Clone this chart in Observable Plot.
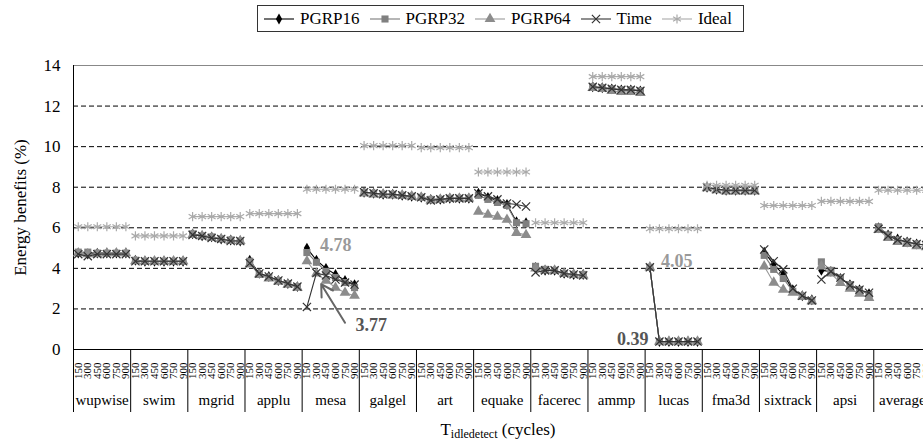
<!DOCTYPE html>
<html><head><meta charset="utf-8">
<script src="https://cdn.jsdelivr.net/npm/d3@7"></script>
<script src="https://cdn.jsdelivr.net/npm/@observablehq/plot@0.6"></script>
<style>
body{margin:0;background:#fff;font-family:"Liberation Serif","Times New Roman",serif;}
#legend{height:36px;position:relative}
#legend .box{position:absolute;left:257px;top:5px;height:27px;width:487px;border:1px solid #333;box-sizing:border-box;display:flex;align-items:center;padding-left:5px;gap:9px}
.item{display:flex;align-items:center;font-size:17px;gap:5px;color:#000}
.item svg{display:block}
#caption{height:31px;font-size:17px;line-height:28px;text-align:center;padding-left:73px}
#caption sub{font-size:12px;vertical-align:-3px;line-height:0}
</style></head>
<body>
<div id="legend"><div class="box"></div></div>
<div id="chart"></div>
<div id="caption">T<sub>idledetect</sub> (cycles)</div>
<script>
const benchmarks = ["wupwise","swim","mgrid","applu","mesa","galgel","art","equake","facerec","ammp","lucas","fma3d","sixtrack","apsi","average"];
const tickLabels = ["150","300","450","600","750","900"];
const seriesNames = ["PGRP16","PGRP32","PGRP64","Time","Ideal"];

const pgrp16 = [
 [4.75,4.7,4.75,4.75,4.75,4.75],
 [4.4,4.35,4.35,4.35,4.35,4.35],
 [5.7,5.6,5.55,5.45,5.4,5.35],
 [4.4,3.75,3.6,3.4,3.25,3.1],
 [5.0,4.4,4.0,3.7,3.4,3.2],
 [7.75,7.7,7.65,7.65,7.6,7.55],
 [7.5,7.4,7.4,7.45,7.45,7.45],
 [7.7,7.5,7.35,7.15,6.3,6.25],
 [4.05,3.9,3.9,3.75,3.7,3.7],
 [12.95,12.9,12.85,12.8,12.8,12.75],
 [4.05,0.39,0.39,0.39,0.39,0.39],
 [8.0,7.9,7.85,7.85,7.85,7.85],
 [4.8,4.2,3.7,2.95,2.65,2.45],
 [3.9,3.85,3.5,3.2,2.95,2.75],
 [6.0,5.65,5.45,5.3,5.2,5.15]
];
const pgrp32 = [
 [4.8,4.8,4.75,4.75,4.75,4.75],
 [4.4,4.35,4.35,4.35,4.35,4.35],
 [5.7,5.6,5.55,5.45,5.4,5.35],
 [4.35,3.7,3.55,3.4,3.25,3.1],
 [4.78,4.3,3.85,3.55,3.3,3.05],
 [7.75,7.7,7.65,7.65,7.6,7.55],
 [7.5,7.4,7.4,7.45,7.45,7.45],
 [7.6,7.4,7.25,7.1,6.25,6.2],
 [4.1,3.95,3.9,3.75,3.7,3.7],
 [12.95,12.9,12.85,12.8,12.8,12.75],
 [4.05,0.39,0.39,0.39,0.39,0.39],
 [8.0,7.9,7.85,7.85,7.85,7.85],
 [4.64,3.95,3.5,2.87,2.63,2.4],
 [4.32,3.9,3.53,3.2,2.95,2.71],
 [6.05,5.65,5.4,5.3,5.2,5.15]
];
const pgrp64 = [
 [4.75,4.7,4.7,4.75,4.75,4.75],
 [4.35,4.35,4.35,4.35,4.35,4.35],
 [5.65,5.6,5.5,5.45,5.35,5.35],
 [4.2,3.7,3.5,3.35,3.2,3.05],
 [4.35,3.75,3.4,3.05,2.8,2.65],
 [7.7,7.65,7.65,7.6,7.6,7.55],
 [7.5,7.35,7.4,7.45,7.45,7.45],
 [6.8,6.65,6.55,6.4,5.75,5.65],
 [4.0,3.9,3.9,3.75,3.7,3.65],
 [12.9,12.85,12.75,12.7,12.7,12.65],
 [4.05,0.39,0.39,0.39,0.39,0.39],
 [7.95,7.85,7.8,7.8,7.8,7.8],
 [4.1,3.3,2.95,2.8,2.6,2.38],
 [4.1,3.75,3.28,3.0,2.75,2.55],
 [5.9,5.5,5.3,5.2,5.1,5.05]
];
const timeSeries = [
 [4.7,4.6,4.7,4.7,4.7,4.7],
 [4.35,4.35,4.35,4.35,4.35,4.35],
 [5.65,5.6,5.5,5.45,5.35,5.35],
 [4.25,3.75,3.6,3.4,3.25,3.1],
 [2.1,3.77,3.65,3.45,3.3,3.2],
 [7.75,7.7,7.65,7.65,7.6,7.55],
 [7.5,7.35,7.4,7.45,7.45,7.45],
 [7.7,7.55,7.4,7.2,7.15,7.05],
 [3.8,3.9,3.9,3.75,3.7,3.65],
 [12.95,12.9,12.85,12.8,12.8,12.75],
 [4.05,0.39,0.39,0.39,0.39,0.39],
 [8.0,7.9,7.85,7.85,7.85,7.85],
 [4.93,4.35,3.95,3.0,2.65,2.42],
 [3.45,3.85,3.55,3.15,2.95,2.8],
 [5.95,5.6,5.4,5.3,5.2,5.15]
];
const ideal = [
 [6.05,6.05,6.05,6.05,6.05,6.05],
 [5.6,5.6,5.6,5.6,5.6,5.6],
 [6.55,6.55,6.55,6.55,6.55,6.55],
 [6.7,6.7,6.7,6.7,6.7,6.7],
 [7.9,7.9,7.9,7.9,7.9,7.9],
 [10.05,10.05,10.05,10.05,10.05,10.05],
 [9.95,9.95,9.95,9.95,9.95,9.95],
 [8.75,8.75,8.75,8.75,8.75,8.75],
 [6.25,6.25,6.25,6.25,6.25,6.25],
 [13.45,13.45,13.45,13.45,13.45,13.45],
 [5.95,5.95,5.95,5.95,5.95,5.95],
 [8.1,8.1,8.1,8.1,8.1,8.1],
 [7.1,7.1,7.1,7.1,7.1,7.1],
 [7.3,7.3,7.3,7.3,7.3,7.3],
 [7.85,7.85,7.85,7.85,7.85,7.85]
];
const yTicks = [0,2,4,6,8,10,12,14];
const gridValues = [2,4,6,8,10,12];
// annotations: series, benchmark, point index within group, label
const annotations = [
 {series:"PGRP32", bench:"mesa", i:0, label:"4.78"},
 {series:"Time", bench:"mesa", i:1, label:"3.77"},
 {series:"PGRP32", bench:"lucas", i:0, label:"4.05"},
 {series:"PGRP32", bench:"lucas", i:1, label:"0.39"}
];

const seriesData = {PGRP16: pgrp16, PGRP32: pgrp32, PGRP64: pgrp64, Time: timeSeries, Ideal: ideal};
const style = {
 PGRP16: {line:"#000", symbol:"diamond", fill:"#000", stroke:"none", r:3.3},
 PGRP32: {line:"#7a7a7a", symbol:"square", fill:"#808080", stroke:"none", r:4},
 PGRP64: {line:"#999", symbol:"triangle", fill:"#8c8c8c", stroke:"none", r:4},
 Time: {line:"#333", symbol:"times", fill:"none", stroke:"#333", r:3.8},
 Ideal: {line:"#aaa", symbol:"asterisk", fill:"none", stroke:"#aaa", r:4.3}
};

const rows = [];
for (const s of seriesNames) {
  seriesData[s].forEach((vals, g) => vals.forEach((v, i) => rows.push({series:s, g, idx:g*6+i, v})));
}
const nPts = benchmarks.length * 6;
const pointIdx = d3.range(nPts);
const centers = benchmarks.map((b, g) => g*6 + 2.5);
const boundaries = d3.range(benchmarks.length + 1).map(g => g*6 - 0.5);
const find = a => rows.find(r => r.series === a.series && r.g === benchmarks.indexOf(a.bench) && r.idx % 6 === a.i);
const ann = annotations.map(a => ({...a, ...find(a)}));

const marks = [
  Plot.ruleY(gridValues, {stroke:"#000", strokeDasharray:"5,3", strokeWidth:1}),
  Plot.ruleY([14], {stroke:"#888"}),
  Plot.ruleY([0], {stroke:"#000"}),
  Plot.ruleX([-0.5], {stroke:"#000"}),
  Plot.axisY(yTicks, {tickSize:0, tickPadding:13, fontSize:17, label:"Energy benefits (%)", labelAnchor:"center", labelArrow:"none", labelOffset:60}),
  Plot.axisX(pointIdx, {tickSize:0, tickPadding:13, tickRotate:-90, tickFormat:i => tickLabels[i % 6], fontSize:11, label:null}),
  Plot.axisX(centers, {tickSize:0, tickPadding:45, tickFormat:(c, k) => benchmarks[Math.round((c-2.5)/6)], fontSize:15, label:null}),
  Plot.axisX(boundaries, {tickSize:63, tickFormat:() => "", stroke:"#000", label:null})
];
for (const s of seriesNames) {
  const st = style[s];
  const d = rows.filter(r => r.series === s);
  marks.push(Plot.line(d, {x:"idx", y:"v", z:"g", stroke:st.line, strokeWidth:1.1}));
  marks.push(Plot.dot(d, {x:"idx", y:"v", symbol:() => st.symbol, r:st.r, fill:st.fill, stroke:st.stroke, strokeWidth:1.2}));
}
const a0 = ann[0], a1 = ann[1], a2 = ann[2], a3 = ann[3];
marks.push(
  Plot.text([a0], {x:"idx", y:"v", text:"label", dx:13, dy:-7, textAnchor:"start", fill:"#999", fontWeight:"bold", fontSize:18}),
  Plot.text([a1], {x:"idx", y:"v", text:"label", dx:39, dy:52, textAnchor:"start", fill:"#555", fontWeight:"bold", fontSize:18}),
  Plot.arrow([a1], {x1:d => d.idx + 3.0, y1:d => d.v - 2.45, x2:d => d.idx + 0.5, y2:d => d.v - 0.55, stroke:"#666", strokeWidth:2, headLength:10}),
  Plot.text([a2], {x:"idx", y:"v", text:"label", dx:11, dy:-6, textAnchor:"start", fill:"#999", fontWeight:"bold", fontSize:18}),
  Plot.text([a3], {x:"idx", y:"v", text:"label", dx:-11, dy:-2, textAnchor:"end", fill:"#555", fontWeight:"bold", fontSize:18})
);

const chart = Plot.plot({
  width: 923, height: 380,
  marginLeft: 73, marginRight: 0, marginTop: 29, marginBottom: 67,
  style: {fontFamily: '"Liberation Serif","Times New Roman",serif', background:"#fff", color:"#000"},
  x: {type:"linear", domain:[-0.5, 88.72]},
  y: {domain:[0,14]},
  marks
});
document.getElementById("chart").appendChild(chart);

// legend
const box = document.querySelector("#legend .box");
seriesNames.forEach(s => {
  const st = style[s];
  const item = document.createElement("div");
  item.className = "item";
  const svg = d3.create("svg").attr("width", 32).attr("height", 14);
  svg.append("line").attr("x1",1).attr("x2",31).attr("y1",7).attr("y2",7).attr("stroke", st.line).attr("stroke-width",1.1);
  const symMap = {diamond:d3.symbolDiamond, square:d3.symbolSquare, triangle:d3.symbolTriangle, times:d3.symbolTimes, asterisk:d3.symbolAsterisk};
  svg.append("path").attr("transform","translate(16,7)")
     .attr("d", d3.symbol(symMap[st.symbol], Math.PI*st.r*st.r)())
     .attr("fill", st.fill).attr("stroke", st.stroke).attr("stroke-width",1.2);
  item.appendChild(svg.node());
  const t = document.createElement("span"); t.textContent = s;
  item.appendChild(t);
  box.appendChild(item);
});
</script>
</body></html>
